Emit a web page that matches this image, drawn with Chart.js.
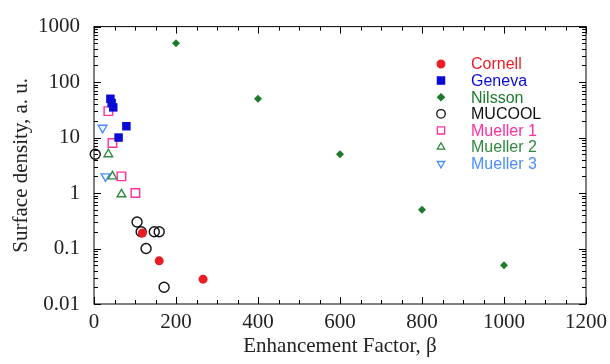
<!DOCTYPE html>
<html>
<head>
<meta charset="utf-8">
<script src="https://cdn.jsdelivr.net/npm/chart.js@4.4.1/dist/chart.umd.min.js"></script>
<style>
  html, body { margin: 0; padding: 0; background: #fff; }
  #wrap { width: 610px; height: 364px; position: relative; }
</style>
</head>
<body>
<div id="wrap"><canvas id="chart"></canvas></div>
<script>
// Enhancement factor (x) and surface density (y) for each source
const cornellX = [118, 159, 266];
const cornellY = [0.19, 0.06, 0.028];
const genevaX = [40, 43, 47, 60, 79];
const genevaY = [50, 42, 35, 10, 16];
const nilssonX = [200, 400, 600, 800, 1000];
const nilssonY = [500, 50, 5, 0.5, 0.05];
const mucoolX = [3, 105, 115, 127, 147, 159, 171];
const mucoolY = [5, 0.3, 0.2, 0.1, 0.2, 0.2, 0.02];
const mueller1X = [35, 45, 67, 101];
const mueller1Y = [30, 8, 2, 1];
const mueller2X = [35, 45, 67];
const mueller2Y = [5, 2, 0.95];
const mueller3X = [21, 28];
const mueller3Y = [15, 2];

const xTicks = [0, 200, 400, 600, 800, 1000, 1200];
const yTicks = [0.01, 0.1, 1, 10, 100, 1000];

const serif = "'Liberation Serif', 'Times New Roman', serif";
const sans = "'Liberation Sans', Arial, sans-serif";

function pts(xs, ys) {
  return xs.map((x, i) => ({ x: x, y: ys[i] }));
}

const series = [
  { label: 'Cornell', data: pts(cornellX, cornellY), color: '#ec1c24', style: 'circle', r: 4.5, filled: true },
  { label: 'Geneva', data: pts(genevaX, genevaY), color: '#0a0ad8', style: 'rect', r: 6, filled: true },
  { label: 'Nilsson', data: pts(nilssonX, nilssonY), color: '#1b7a2b', style: 'rectRot', r: 4, filled: true },
  { label: 'MUCOOL', data: pts(mucoolX, mucoolY), color: '#111111', style: 'circle', r: 5, filled: false },
  { label: 'Mueller 1', data: pts(mueller1X, mueller1Y), color: '#ff2f9c', style: 'rect', r: 6, filled: false },
  { label: 'Mueller 2', data: pts(mueller2X, mueller2Y), color: '#2f8a3e', style: 'triangle', r: 5, filled: false },
  { label: 'Mueller 3', data: pts(mueller3X, mueller3Y), color: '#4a8eff', style: 'triangle', r: 5, filled: false, rot: 180 }
];

// Frame with inward ticks on all four sides
const frameTicks = {
  id: 'frameTicks',
  beforeDatasetsDraw(chart) {
    const { ctx, chartArea: a, scales: { x, y } } = chart;
    ctx.save();
    ctx.strokeStyle = '#000';
    ctx.lineWidth = 1;
    ctx.strokeRect(a.left, a.top, a.width, a.height);
    ctx.beginPath();
    for (let v = 0; v <= 1200; v += 50) {
      const px = Math.round(x.getPixelForValue(v)) + 0.5;
      const len = v % 200 === 0 ? 7 : 4;
      ctx.moveTo(px, a.bottom); ctx.lineTo(px, a.bottom - len);
      ctx.moveTo(px, a.top); ctx.lineTo(px, a.top + len);
    }
    for (let e = -2; e <= 3; e++) {
      for (let m = 1; m <= 9; m++) {
        if (e === 3 && m > 1) break;
        const py = Math.round(y.getPixelForValue(m * Math.pow(10, e))) + 0.5;
        const len = m === 1 ? 7 : 4;
        ctx.moveTo(a.left, py); ctx.lineTo(a.left + len, py);
        ctx.moveTo(a.right, py); ctx.lineTo(a.right - len, py);
      }
    }
    ctx.stroke();
    ctx.restore();
  }
};

// Legend drawn inside the plot, text coloured like its markers
const innerLegend = {
  id: 'innerLegend',
  afterDraw(chart) {
    const ctx = chart.ctx;
    ctx.save();
    ctx.font = '16px ' + sans;
    ctx.textBaseline = 'middle';
    series.forEach((s, i) => {
      const yy = 64 + i * 16.6;
      ctx.fillStyle = s.filled ? s.color : 'rgba(0,0,0,0)';
      ctx.strokeStyle = s.color;
      ctx.lineWidth = 1.3;
      Chart.helpers.drawPoint(ctx, {
        pointStyle: s.style, radius: s.r * 0.85, rotation: s.rot || 0, borderWidth: 1.3
      }, 441, yy);
      ctx.fillStyle = s.color;
      ctx.fillText(s.label, 471, yy + 1);
    });
    ctx.restore();
  }
};

new Chart(document.getElementById('chart'), {
  type: 'scatter',
  data: {
    datasets: series.map(s => ({
      label: s.label,
      data: s.data,
      pointStyle: s.style,
      pointRadius: s.r,
      pointHoverRadius: s.r,
      pointRotation: s.rot || 0,
      pointBackgroundColor: s.filled ? s.color : 'rgba(0,0,0,0)',
      pointBorderColor: s.color,
      pointBorderWidth: s.filled ? 0 : 1.4,
      clip: false
    }))
  },
  options: {
    responsive: true,
    maintainAspectRatio: false,
    animation: false,
    layout: { padding: { top: 22, right: 24, left: 0, bottom: 0 } },
    plugins: {
      legend: { display: false },
      tooltip: { enabled: false }
    },
    scales: {
      x: {
        type: 'linear',
        min: 0,
        max: 1200,
        grid: { display: false, drawTicks: false },
        border: { display: false },
        afterBuildTicks: scale => { scale.ticks = xTicks.map(v => ({ value: v })); },
        ticks: {
          color: '#222',
          padding: 6,
          font: { family: serif, size: 21 },
          maxRotation: 0,
          callback: v => String(v)
        },
        title: {
          display: true,
          text: 'Enhancement Factor, \u03b2',
          color: '#222',
          font: { family: serif, size: 21 },
          padding: { top: 0, bottom: 5 }
        },
        afterFit: scale => {
          scale.height = 60;
          scale.paddingLeft = 0;
          scale.paddingRight = 0;
        }
      },
      y: {
        type: 'logarithmic',
        min: 0.01,
        max: 1000,
        grid: { display: false, drawTicks: false },
        border: { display: false },
        afterBuildTicks: scale => { scale.ticks = yTicks.map(v => ({ value: v })); },
        ticks: {
          color: '#222',
          padding: 14,
          font: { family: serif, size: 21 },
          callback: v => String(v)
        },
        title: {
          display: true,
          text: 'Surface density, a. u.',
          color: '#222',
          font: { family: serif, size: 21 },
          padding: { top: 9, bottom: 0 }
        },
        afterFit: scale => { scale.width = 94; }
      }
    }
  },
  plugins: [frameTicks, innerLegend]
});
</script>
</body>
</html>
